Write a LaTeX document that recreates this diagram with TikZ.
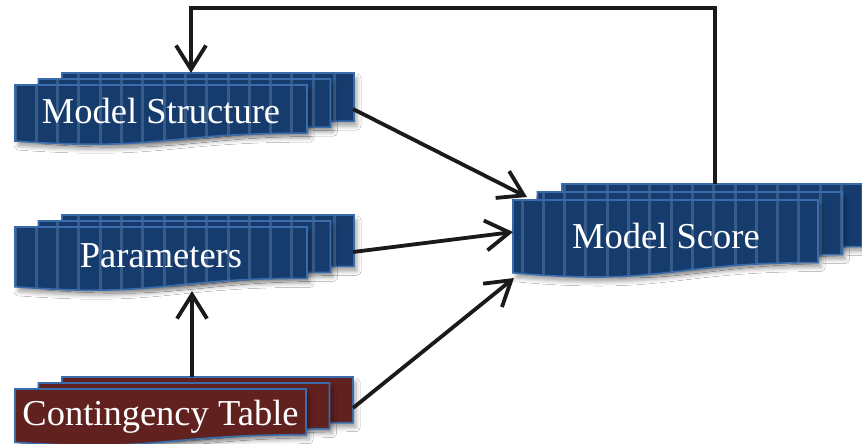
\documentclass[tikz,border=0pt]{standalone}
\usepackage{fontspec}
\setmainfont{Liberation Serif}
\usetikzlibrary{arrows.meta,shadows.blur}

\definecolor{docfill}{RGB}{22,60,110}
\definecolor{docstripe}{RGB}{56,92,138}
\definecolor{docedge}{RGB}{58,107,170}
\definecolor{tablefill}{RGB}{96,33,31}
\definecolor{ink}{RGB}{26,26,26}

\tikzset{
  docbody/.style={draw=docedge, line width=1.6pt,
    blur shadow={shadow xshift=3pt, shadow yshift=-5pt, shadow blur radius=4pt, shadow opacity=35}},
  stripe/.style={draw=docstripe, line width=3pt},
  label/.style={anchor=base, text=white, inner sep=0pt,
    font=\fontsize{36.5}{40}\selectfont},
  flow/.style={draw=ink, line width=3.8pt, line join=miter,
    -{Straight Barb[length=24pt,width=30pt]}},
}

% One document sheet with a wavy lower edge.
% #1 left, #2 top, #3 width, #4 height, #5 fill, #6 x of the first stripe (negative: plain)
\newcommand\onedoc[6]{%
  \path[docbody, fill=#5, path picture={%
      \ifdim #6pt<0pt\else
        \foreach \k in {0,...,18}
          \draw[stripe] ({#6+21.3*\k},0) -- ({#6+21.3*\k},444);
      \fi}]
    (#1,#2) -- ({#1+#3},#2) -- ({#1+#3},{#2+0.802*#4})
    .. controls ({#1+0.5*#3},{#2+0.802*#4}) and ({#1+0.5*#3},{#2+1.1075*#4})
    .. (#1,{#2+0.934*#4}) -- cycle;}

% A stack of three sheets, back to front.
% #1 left, #2 top (front sheet), #3 width, #4 height, #5 dx, #6 dy, #7 fill, #8 stripe x
\newcommand\docstack[8]{%
  \onedoc{#1+2*#5}{#2-2*#6}{#3}{#4}{#7}{#8}
  \onedoc{#1+#5}{#2-#6}{#3}{#4}{#7}{#8}
  \onedoc{#1}{#2}{#3}{#4}{#7}{#8}}

\begin{document}
\begin{tikzpicture}[x=1pt, y=-1pt]
  \fill[white] (0,0) rectangle (862,444);
  \useasboundingbox (0,0) rectangle (862,444);
  \clip (0,0) rectangle (862,444);

  % sheet stacks
  \docstack{15}{85}{292}{60}{23.5}{6}{docfill}{15}
  \docstack{15}{227}{292}{64}{23.5}{6}{docfill}{15}
  \docstack{513}{200}{305}{78}{24.5}{8}{docfill}{522}
  \docstack{15}{389}{291}{57}{23.5}{6}{tablefill}{-1}

  % captions
  \node[label] (ms) at (161,123) {Model Structure};
  \node[label] (par) at (161,267) {Parameters};
  \node[label] (score) at (666,248) {Model Score};
  \node[label] (ct) at (160.5,425) {Contingency Table};

  % connector ends on the sheet edges
  \coordinate (ms-in) at (191,73);
  \coordinate (ms-out) at (353,109);
  \coordinate (par-in) at (192,291);
  \coordinate (par-out) at (353,252);
  \coordinate (ct-up) at (192,377);
  \coordinate (ct-out) at (353,408);
  \coordinate (sc-in1) at (527,197);
  \coordinate (sc-in2) at (513,232);
  \coordinate (sc-in3) at (514,278);
  \coordinate (sc-up) at (715,184);

  % connectors
  \draw[flow] (ms-out) -- (sc-in1);
  \draw[flow] (par-out) -- (sc-in2);
  \draw[flow] (ct-out) -- (sc-in3);
  \draw[flow] (ct-up) -- (par-in);
  \draw[flow] (sc-up) -- ++(0,-176) -| (ms-in);
\end{tikzpicture}
\end{document}
